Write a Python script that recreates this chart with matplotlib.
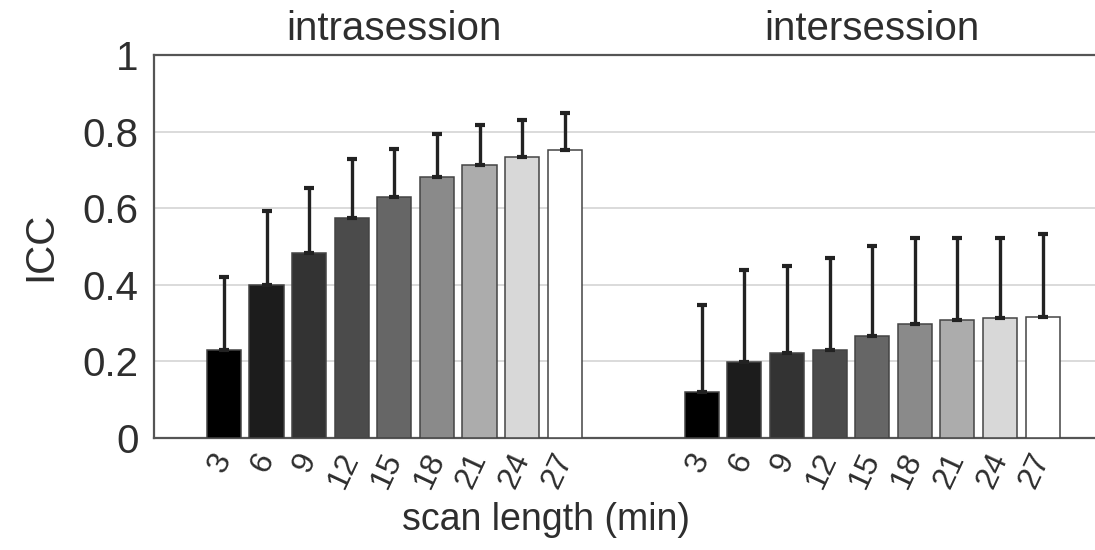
import matplotlib
matplotlib.use("Agg")
import matplotlib.pyplot as plt
import numpy as np

plt.rcParams['font.family'] = ['Liberation Sans', 'DejaVu Sans']

# Scan lengths (minutes) shown under each group of bars
scan_lengths = ["3", "6", "9", "12", "15", "18", "21", "24", "27"]
group_titles = ["intrasession", "intersession"]

# Mean ICC per scan length
icc_intra = [0.230, 0.400, 0.482, 0.574, 0.628, 0.681, 0.713, 0.735, 0.752]
icc_inter = [0.121, 0.199, 0.221, 0.230, 0.267, 0.297, 0.308, 0.314, 0.315]

# Upper error (standard deviation) above each mean
sd_intra = [0.191, 0.194, 0.170, 0.154, 0.127, 0.114, 0.104, 0.095, 0.096]
sd_inter = [0.226, 0.240, 0.228, 0.239, 0.234, 0.224, 0.215, 0.209, 0.218]

# Grey level of each bar, black (short scans) to white (long scans)
bar_greys = ["#000000", "#1c1c1c", "#333333", "#4b4b4b", "#666666",
             "#8a8a8a", "#acacac", "#d8d8d8", "#ffffff"]

text_color = "#2e2e2e"

fig = plt.figure(figsize=(10.95, 5.5), dpi=100)
ax = fig.add_axes([0.1406, 0.2036, 0.8594, 0.6964])

n = len(scan_lengths)
step_gap = 11.22
pos_intra = np.arange(n, dtype=float)
pos_inter = np.arange(n, dtype=float) + step_gap

for pos, vals, errs in ((pos_intra, icc_intra, sd_intra),
                        (pos_inter, icc_inter, sd_inter)):
    ax.bar(pos, vals, width=0.8, color=bar_greys, edgecolor="#444444",
           linewidth=1.1, zorder=3)
    ax.errorbar(pos, vals, yerr=[np.zeros(n), errs], fmt="none",
                ecolor="#222222", elinewidth=2.4, capsize=3.8, capthick=3,
                zorder=4)

ax.set_xlim(-1.643, 20.45)
ax.set_ylim(0, 1)
ax.set_yticks([0, 0.2, 0.4, 0.6, 0.8, 1])
ax.set_yticklabels(["0", "0.2", "0.4", "0.6", "0.8", "1"])
ax.yaxis.grid(True, color="#d4d4d4", linewidth=1.2, zorder=0)
ax.set_axisbelow(True)

ax.set_xticks(np.concatenate([pos_intra, pos_inter]))
ax.set_xticklabels(scan_lengths + scan_lengths, rotation=65,
                   ha="right", va="center", rotation_mode="anchor")

ax.tick_params(axis="y", length=0, pad=11, labelsize=29, labelcolor=text_color)
ax.tick_params(axis="x", length=0, pad=12, labelsize=23, labelcolor=text_color)

for side in ("left", "top", "bottom"):
    ax.spines[side].set_color("#555555")
    ax.spines[side].set_linewidth(1.6)
ax.spines["right"].set_visible(False)

# Group titles centred above each group of bars
for title, pos in zip(group_titles, (pos_intra, pos_inter)):
    ax.text(pos.mean(), 1.018, title, transform=ax.get_xaxis_transform(),
            ha="center", va="bottom", fontsize=29, color=text_color)

ax.set_ylabel("ICC", fontsize=29, color=text_color, labelpad=17)
fig.text(546 / 1095, 1 - 520 / 550, "scan length (min)", ha="center",
         va="center", fontsize=27, color=text_color)

fig.savefig("out.png", dpi=100)
